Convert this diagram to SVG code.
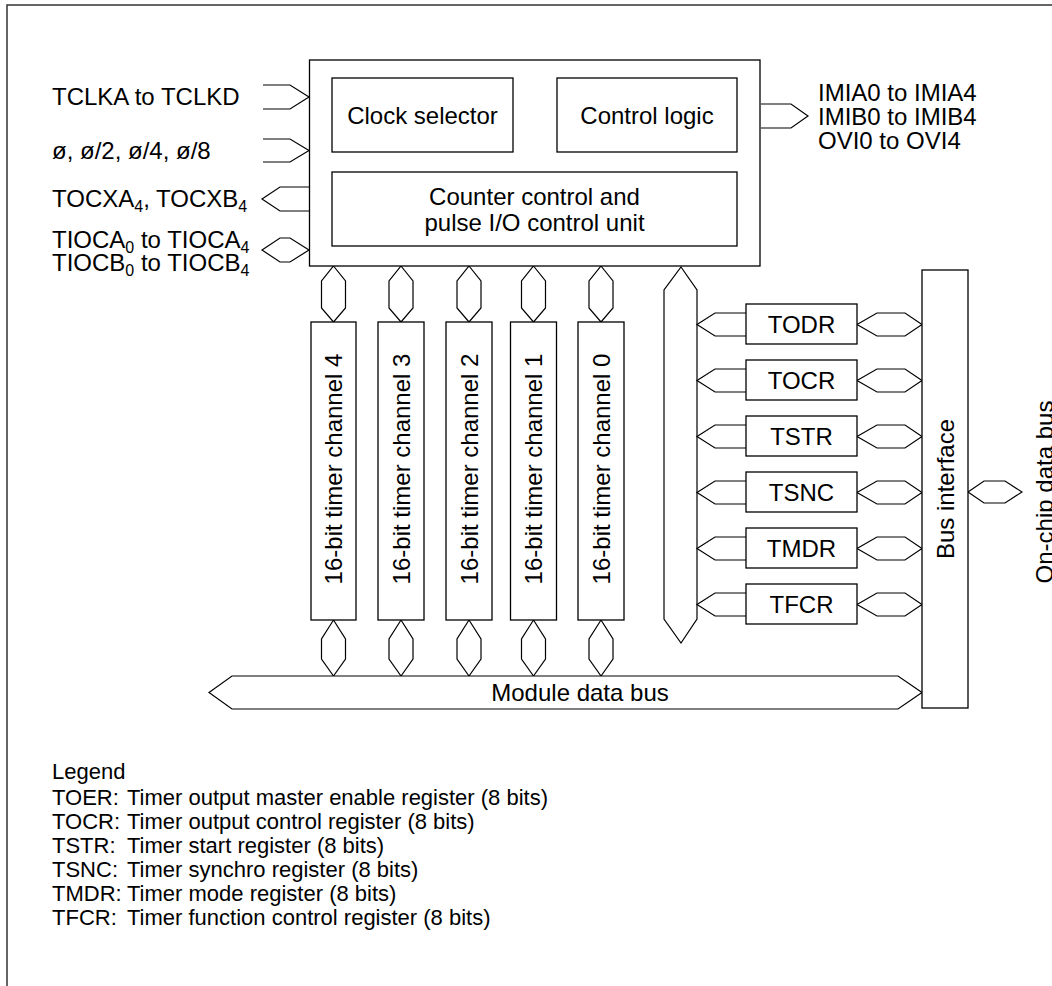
<svg xmlns="http://www.w3.org/2000/svg" width="1052" height="986" viewBox="0 0 1052 986">
<style>
.box{fill:#fff;stroke:#000;stroke-width:1.3}
.c{fill:#fff;stroke:#000;stroke-width:1.2;stroke-linejoin:miter}
.o{fill:none;stroke:#000;stroke-width:1.2}
text{font-family:"Liberation Sans",Arial,sans-serif;font-size:24px;fill:#000}
.m{text-anchor:middle}
.sub{font-size:16px}
.lg{font-size:22px}
</style>
<rect x="0" y="0" width="1052" height="986" fill="#fff"/>
<rect x="7" y="5" width="1100" height="1100" fill="none" stroke="#333" stroke-width="1.5"/>

<g id="connectors">
  <!-- left inputs -->
  <polyline class="o" points="263,85 290,85 309,97 290,109 263,109"/>
  <polyline class="o" points="263,139 290,139 309,150.5 290,162 263,162"/>
  <polyline class="o" points="309,187 280,187 262,199 280,211 309,211"/>
  <polygon class="c" points="262,250 280,238 290,238 309,250 290,262 280,262"/>
  <!-- right output -->
  <polyline class="o" points="761,104 791,104 808,116 791,128 761,128"/>
  <!-- channel top connectors -->
  <polygon class="c" points="333.5,266 345.5,281 345.5,308 333.5,322 321.5,308 321.5,281"/>
  <polygon class="c" points="401,266 413,281 413,308 401,322 389,308 389,281"/>
  <polygon class="c" points="469,266 481,281 481,308 469,322 457,308 457,281"/>
  <polygon class="c" points="533.5,266 545.5,281 545.5,308 533.5,322 521.5,308 521.5,281"/>
  <polygon class="c" points="601,266 613,281 613,308 601,322 589,308 589,281"/>
  <!-- channel bottom connectors -->
  <polygon class="c" points="333.5,620 345.5,639 345.5,659 333.5,676 321.5,659 321.5,639"/>
  <polygon class="c" points="401,620 413,639 413,659 401,676 389,659 389,639"/>
  <polygon class="c" points="469,620 481,639 481,659 469,676 457,659 457,639"/>
  <polygon class="c" points="533.5,620 545.5,639 545.5,659 533.5,676 521.5,659 521.5,639"/>
  <polygon class="c" points="601,620 613,639 613,659 601,676 589,659 589,639"/>
  <!-- internal vertical bus -->
  <polygon class="c" points="681,267 697,290 697,619 681,643 664,619 664,290"/>
  <!-- register to internal bus (left) -->
  <polyline class="o" points="746,313 715,313 697,324.5 715,336 746,336"/>
  <polyline class="o" points="746,369 715,369 697,380.5 715,392 746,392"/>
  <polyline class="o" points="746,425 715,425 697,436.5 715,448 746,448"/>
  <polyline class="o" points="746,481 715,481 697,492.5 715,504 746,504"/>
  <polyline class="o" points="746,537 715,537 697,548.5 715,560 746,560"/>
  <polyline class="o" points="746,593 715,593 697,604.5 715,616 746,616"/>
  <!-- register to bus interface (bidirectional) -->
  <polygon class="c" points="857,324.5 877,313 905,313 922,324.5 905,336 877,336"/>
  <polygon class="c" points="857,380.5 877,369 905,369 922,380.5 905,392 877,392"/>
  <polygon class="c" points="857,436.5 877,425 905,425 922,436.5 905,448 877,448"/>
  <polygon class="c" points="857,492.5 877,481 905,481 922,492.5 905,504 877,504"/>
  <polygon class="c" points="857,548.5 877,537 905,537 922,548.5 905,560 877,560"/>
  <polygon class="c" points="857,604.5 877,593 905,593 922,604.5 905,616 877,616"/>
  <!-- bus interface to on-chip data bus -->
  <polygon class="c" points="968,492 984,481 1005,481 1022,492 1005,503 984,503"/>
  <!-- module data bus -->
  <polygon class="c" points="209,692.5 232,676 898,676 922,692.5 898,709 232,709"/>
</g>

<g id="main-block">
  <rect class="box" x="309.5" y="60" width="450.5" height="206"/>
</g>
<g id="clock-selector">
  <rect class="box" x="332" y="78" width="181" height="74"/>
  <text class="m" x="422.5" y="124">Clock selector</text>
</g>
<g id="control-logic">
  <rect class="box" x="557" y="78" width="180" height="74"/>
  <text class="m" x="647" y="124">Control logic</text>
</g>
<g id="counter-control">
  <rect class="box" x="332" y="172" width="405" height="74"/>
  <text class="m" x="534.5" y="205">Counter control and</text>
  <text class="m" x="534.5" y="231">pulse I/O control unit</text>
</g>

<g id="channel-4">
  <rect class="box" x="311" y="322" width="45" height="298"/>
  <text class="m" transform="translate(342,469) rotate(-90)">16-bit timer channel 4</text>
</g>
<g id="channel-3">
  <rect class="box" x="378" y="322" width="46" height="298"/>
  <text class="m" transform="translate(409.5,469) rotate(-90)">16-bit timer channel 3</text>
</g>
<g id="channel-2">
  <rect class="box" x="446" y="322" width="46" height="298"/>
  <text class="m" transform="translate(477.5,469) rotate(-90)">16-bit timer channel 2</text>
</g>
<g id="channel-1">
  <rect class="box" x="510.5" y="322" width="46" height="298"/>
  <text class="m" transform="translate(542,469) rotate(-90)">16-bit timer channel 1</text>
</g>
<g id="channel-0">
  <rect class="box" x="578" y="322" width="46" height="298"/>
  <text class="m" transform="translate(609.5,469) rotate(-90)">16-bit timer channel 0</text>
</g>

<g id="todr"><rect class="box" x="746" y="304" width="111" height="40"/><text class="m" x="801.5" y="332.5">TODR</text></g>
<g id="tocr"><rect class="box" x="746" y="360" width="111" height="40"/><text class="m" x="801.5" y="388.5">TOCR</text></g>
<g id="tstr"><rect class="box" x="746" y="416" width="111" height="40"/><text class="m" x="801.5" y="444.5">TSTR</text></g>
<g id="tsnc"><rect class="box" x="746" y="472" width="111" height="40"/><text class="m" x="801.5" y="500.5">TSNC</text></g>
<g id="tmdr"><rect class="box" x="746" y="528" width="111" height="40"/><text class="m" x="801.5" y="556.5">TMDR</text></g>
<g id="tfcr"><rect class="box" x="746" y="584" width="111" height="40"/><text class="m" x="801.5" y="612.5">TFCR</text></g>

<g id="bus-interface">
  <rect class="box" x="922" y="270" width="46" height="438"/>
  <text class="m" transform="translate(953.5,489) rotate(-90)">Bus interface</text>
</g>

<g id="labels">
  <text x="52" y="105">TCLKA to TCLKD</text>
  <text x="52" y="159">ø, ø/2, ø/4, ø/8</text>
  <text x="52" y="207">TOCXA<tspan class="sub" dy="5">4</tspan><tspan dy="-5">, TOCXB</tspan><tspan class="sub" dy="5">4</tspan></text>
  <text x="52" y="248">TIOCA<tspan class="sub" dy="5">0</tspan><tspan dy="-5"> to TIOCA</tspan><tspan class="sub" dy="5">4</tspan></text>
  <text x="52" y="271">TIOCB<tspan class="sub" dy="5">0</tspan><tspan dy="-5"> to TIOCB</tspan><tspan class="sub" dy="5">4</tspan></text>
  <text x="818" y="101">IMIA0 to IMIA4</text>
  <text x="818" y="125">IMIB0 to IMIB4</text>
  <text x="818" y="149">OVI0 to OVI4</text>
  <text class="m" x="580" y="701">Module data bus</text>
  <text class="m" transform="translate(1053,492) rotate(-90)">On-chip data bus</text>
</g>

<g id="legend">
  <text class="lg" x="52" y="779">Legend</text>
  <text class="lg" x="52" y="805">TOER:<tspan x="127">Timer output master enable register (8 bits)</tspan></text>
  <text class="lg" x="52" y="829">TOCR:<tspan x="127">Timer output control register (8 bits)</tspan></text>
  <text class="lg" x="52" y="853">TSTR:<tspan x="127">Timer start register (8 bits)</tspan></text>
  <text class="lg" x="52" y="877">TSNC:<tspan x="127">Timer synchro register (8 bits)</tspan></text>
  <text class="lg" x="52" y="901">TMDR:<tspan x="127">Timer mode register (8 bits)</tspan></text>
  <text class="lg" x="52" y="925">TFCR:<tspan x="127">Timer function control register (8 bits)</tspan></text>
</g>
</svg>
